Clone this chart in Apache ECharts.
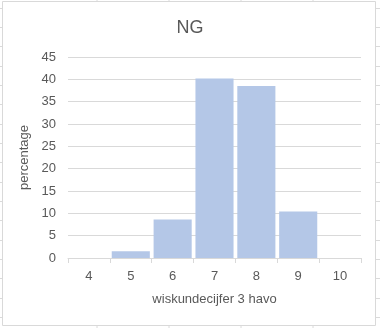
<!DOCTYPE html>
<html><head><meta charset="utf-8">
<script src="https://cdn.jsdelivr.net/npm/echarts@6/dist/echarts.min.js"></script>
<style>html,body{margin:0;padding:0;background:#fff}#c{width:380px;height:328px}</style>
</head><body><div id="c"></div>
<script>
const categories = ['4','5','6','7','8','9','10'];
const percentages = [0, 1.5, 8.6, 40.2, 38.5, 10.4, 0];
const yTicks = [0, 5, 10, 15, 20, 25, 30, 35, 40, 45];

const chart = echarts.init(document.getElementById('c'), null, {renderer: 'canvas'});
const FONT = 'Liberation Sans';
const TXT = '#595959';
const bgLines = [];
// faint spreadsheet cell lines outside the chart border
[97, 169, 241, 313].forEach(x => {
  bgLines.push({type:'line', shape:{x1:x, y1:0, x2:x, y2:1}, style:{stroke:'#dadada', lineWidth:1}});
  bgLines.push({type:'line', shape:{x1:x, y1:326, x2:x, y2:328}, style:{stroke:'#dadada', lineWidth:1}});
});
[8, 27, 46, 66, 85, 104, 124, 143, 162, 182, 201, 220, 240, 259, 278, 298, 317].forEach(y => {
  bgLines.push({type:'line', shape:{x1:0, y1:y+0.5, x2:2, y2:y+0.5}, style:{stroke:'#dadada', lineWidth:1}});
  bgLines.push({type:'line', shape:{x1:376, y1:y+0.5, x2:380, y2:y+0.5}, style:{stroke:'#dadada', lineWidth:1}});
});
bgLines.push({type:'rect', shape:{x:2.5, y:1.5, width:373, height:324}, style:{fill:null, stroke:'#d9d9d9', lineWidth:1}});

chart.setOption({
  animation: false,
  backgroundColor: '#fff',
  textStyle: {fontFamily: FONT},
  title: {text: 'NG', left: 'center', top: 14, textStyle: {fontFamily: FONT, fontSize: 18, fontWeight: 'normal', color: TXT}},
  graphic: bgLines,
  grid: {left: 68, right: 19, top: 57, bottom: 70},
  xAxis: {
    type: 'category', data: categories,
    name: 'wiskundecijfer 3 havo', nameLocation: 'middle', nameGap: 35,
    nameTextStyle: {fontFamily: FONT, fontSize: 13, color: TXT},
    axisLine: {lineStyle: {color: '#d9d9d9'}},
    axisTick: {show: true, length: 5, lineStyle: {color: '#d9d9d9'}},
    axisLabel: {fontFamily: FONT, fontSize: 13, color: TXT, margin: 12}
  },
  yAxis: {
    type: 'value', min: yTicks[0], max: yTicks[yTicks.length-1], interval: 5,
    name: 'percentage', nameLocation: 'middle', nameGap: 27,
    nameTextStyle: {fontFamily: FONT, fontSize: 13, color: TXT},
    axisLine: {show: false}, axisTick: {show: false},
    axisLabel: {fontFamily: FONT, fontSize: 13, color: TXT, margin: 12},
    splitLine: {lineStyle: {color: '#d9d9d9'}}
  },
  series: [{
    type: 'bar', data: percentages, barCategoryGap: '9%',
    itemStyle: {color: '#b4c7e7'}
  }]
});
</script></body></html>
